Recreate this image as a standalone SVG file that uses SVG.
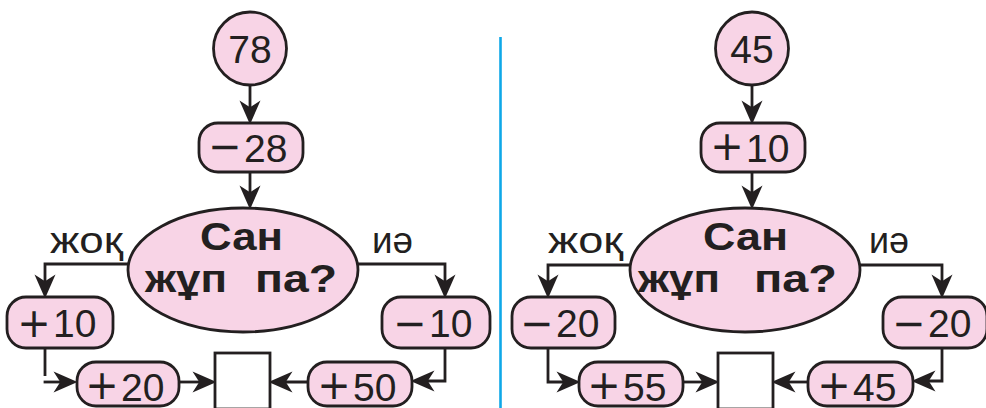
<svg xmlns="http://www.w3.org/2000/svg" width="986" height="408" viewBox="0 0 986 408">
<defs>
<style>
.nd{fill:#f8d4e6;stroke:#231f20;stroke-width:2.8}
.sq{fill:#ffffff;stroke:#231f20;stroke-width:2.8}
.ln{fill:none;stroke:#231f20;stroke-width:2.8;marker-end:url(#ah)}
.ln0{fill:none;stroke:#231f20;stroke-width:2.8}
.num{font-family:"Liberation Sans",Arial,sans-serif;font-size:39px;fill:#231f20}
.sg{font-family:"DejaVu Sans",sans-serif;font-size:40px;fill:#231f20;text-anchor:middle}
.q{font-family:"Liberation Sans",Arial,sans-serif;font-size:38px;font-weight:bold;fill:#231f20}
.lb{font-family:"Liberation Sans",Arial,sans-serif;font-size:37px;fill:#231f20}
</style>
<marker id="ah" markerUnits="userSpaceOnUse" markerWidth="30" markerHeight="30" refX="0" refY="0" viewBox="-15 -8 20 16" orient="auto" overflow="visible">
<path d="M3,0 L-13,-7 L-8.5,0 L-13,7 Z" fill="#231f20"/>
</marker>
</defs>
<rect width="986" height="408" fill="#ffffff"/>
<line id="divider" x1="500.5" y1="37" x2="500.5" y2="408" stroke="#0fa8e8" stroke-width="2.6"/>

<g id="connectors">
<path class="ln" d="M250,85 V120"/>
<path class="ln" d="M250,172 V205"/>
<path class="ln" d="M128,264 H45 V294"/>
<path class="ln" d="M358,264 H445 V294"/>
<path class="ln0" d="M45,336 V376"/>
<path class="ln" d="M43.6,382 H73"/>
<path class="ln" d="M180,382 H212"/>
<path class="ln" d="M308,382 H273"/>
<path class="ln" d="M445,348 V381 H415"/>

<path class="ln" d="M752,85 V120"/>
<path class="ln" d="M752,172 V205"/>
<path class="ln" d="M630,265 H548 V294"/>
<path class="ln" d="M859,265 H942 V294"/>
<path class="ln" d="M548,348 V382 H576"/>
<path class="ln" d="M683,382 H715"/>
<path class="ln" d="M808,382 H776"/>
<path class="ln" d="M942,348 V381 H916"/>
</g>

<text class="lb" x="50" y="253" textLength="73" lengthAdjust="spacingAndGlyphs">жоқ</text>
<text class="lb" x="372" y="253" textLength="41" lengthAdjust="spacingAndGlyphs">иә</text>
<text class="lb" x="548" y="253" textLength="75" lengthAdjust="spacingAndGlyphs">жоқ</text>
<text class="lb" x="869" y="253" textLength="40" lengthAdjust="spacingAndGlyphs">иә</text>

<g id="n78">
<circle class="nd" cx="250" cy="48.5" r="36.5"/>
<text class="num" x="250" y="62.5" text-anchor="middle">78</text>
</g>
<g id="m28">
<rect class="nd" x="199" y="123" width="104" height="49" rx="19"/>
<text class="sg" x="225" y="160">−</text>
<text class="num" x="244" y="162">28</text>
</g>
<g id="q1">
<ellipse class="nd" cx="243" cy="270" rx="115" ry="62"/>
<text class="q" x="200" y="250" textLength="83" lengthAdjust="spacingAndGlyphs">Сан</text>
<text class="q" x="145" y="292" textLength="82" lengthAdjust="spacingAndGlyphs">жұп</text>
<text class="q" x="255" y="292" textLength="82" lengthAdjust="spacingAndGlyphs">па?</text>
</g>
<g id="p10a">
<rect class="nd" x="7" y="297" width="106" height="51" rx="19"/>
<text class="sg" x="34" y="337">+</text>
<text class="num" x="53" y="337">10</text>
</g>
<g id="m10">
<rect class="nd" x="382" y="297" width="108" height="51" rx="19"/>
<text class="sg" x="410" y="337">−</text>
<text class="num" x="429" y="337">10</text>
</g>
<g id="p20">
<rect class="nd" x="77" y="362" width="102" height="44" rx="19"/>
<text class="sg" x="102" y="398.5">+</text>
<text class="num" x="121" y="401">20</text>
</g>
<g id="res1">
<rect class="sq" x="215" y="353" width="55" height="56"/>
</g>
<g id="p50">
<rect class="nd" x="308" y="362" width="104" height="44" rx="19"/>
<text class="sg" x="334" y="398.5">+</text>
<text class="num" x="353" y="401">50</text>
</g>

<g id="n45">
<circle class="nd" cx="752" cy="48.5" r="36.5"/>
<text class="num" x="752" y="62.5" text-anchor="middle">45</text>
</g>
<g id="p10b">
<rect class="nd" x="701" y="123" width="104" height="49" rx="19"/>
<text class="sg" x="727" y="160">+</text>
<text class="num" x="746" y="162">10</text>
</g>
<g id="q2">
<ellipse class="nd" cx="745" cy="270" rx="115" ry="62"/>
<text class="q" x="703" y="250" textLength="85" lengthAdjust="spacingAndGlyphs">Сан</text>
<text class="q" x="638" y="292" textLength="82" lengthAdjust="spacingAndGlyphs">жұп</text>
<text class="q" x="754" y="292" textLength="83" lengthAdjust="spacingAndGlyphs">па?</text>
</g>
<g id="m20a">
<rect class="nd" x="512" y="297" width="103" height="51" rx="19"/>
<text class="sg" x="537" y="337">−</text>
<text class="num" x="556" y="337">20</text>
</g>
<g id="m20b">
<rect class="nd" x="883" y="297" width="104" height="51" rx="19"/>
<text class="sg" x="909" y="337">−</text>
<text class="num" x="928" y="337">20</text>
</g>
<g id="p55">
<rect class="nd" x="579" y="362" width="104" height="44" rx="19"/>
<text class="sg" x="604" y="398.5">+</text>
<text class="num" x="623" y="401">55</text>
</g>
<g id="res2">
<rect class="sq" x="718" y="353" width="55" height="56"/>
</g>
<g id="p45">
<rect class="nd" x="808" y="362" width="105" height="44" rx="19"/>
<text class="sg" x="834" y="398.5">+</text>
<text class="num" x="853" y="401">45</text>
</g>
</svg>
